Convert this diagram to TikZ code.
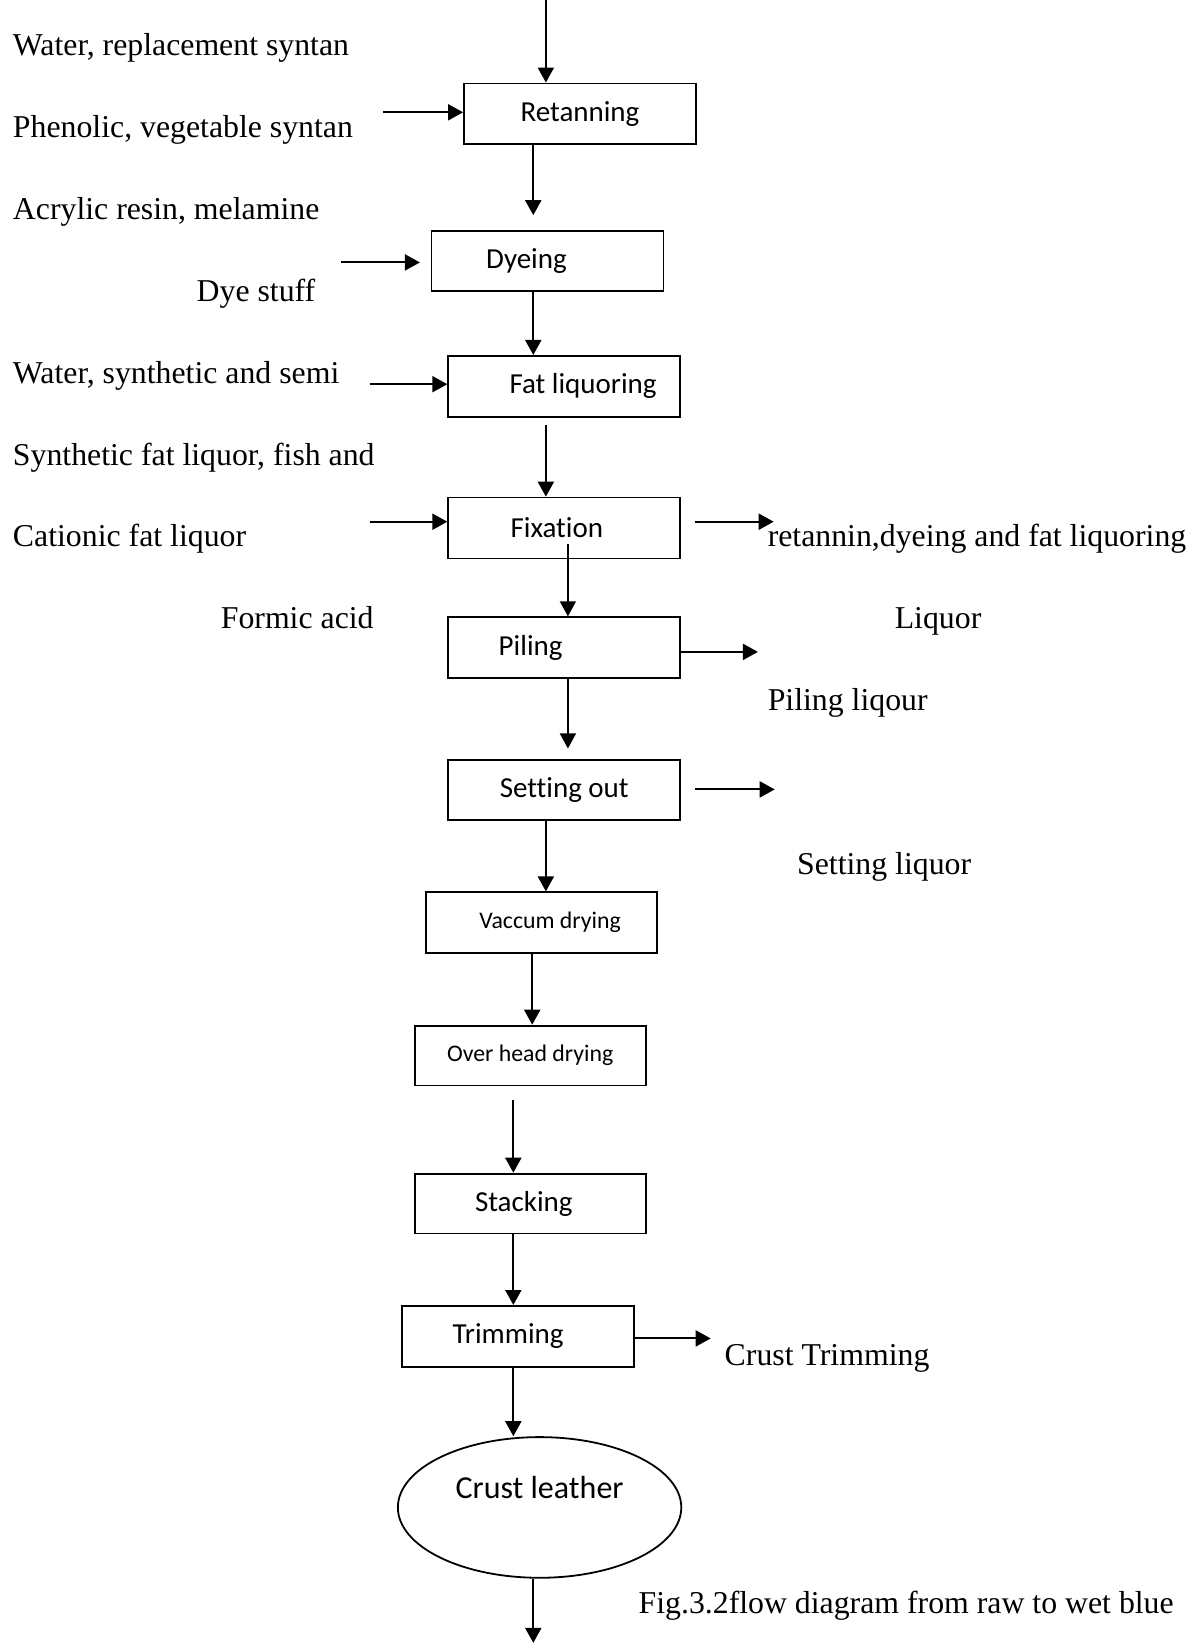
\documentclass[tikz,border=0pt]{standalone}
\usepackage{fontspec}
\setmainfont{Liberation Serif}
\newfontfamily\boxfont[Ligatures=NoCommon]{Carlito}
\usetikzlibrary{arrows.meta,shapes.geometric}
\newlength\px
\setlength\px{0.525pt}

\tikzset{
  stepbox/.style={draw, line width=0.9pt, minimum width=221\px, minimum height=58\px,
    inner sep=0pt, font=\boxfont\fontsize{14.5}{17}\selectfont},
  smallbox/.style={stepbox, font=\boxfont\fontsize{11.9}{14}\selectfont},
  flow/.style={-{Triangle[length=7.5pt,width=8pt]}, line width=1pt},
  thinflow/.style={flow, line width=0.7pt},
  feed/.style={anchor=west, inner sep=0pt, text height=10.5pt, text depth=0pt,
    font=\fontsize{15.9}{19}\selectfont}
}

\begin{document}
\begin{tikzpicture}[x=0.525pt, y=-0.525pt]
\useasboundingbox (0,0) rectangle (1140,1568);

\node[stepbox] (retan) at (552.5,108.5) {Retanning};
\node[stepbox, minimum height=57\px] (dye) at (521.5,248.5) {Dyeing\hspace*{40\px}};
\node[stepbox] (fat) at (537.5,368) {\hspace*{36\px}Fat liquoring};
\node[stepbox] (fix) at (537.5,503) {Fixation\hspace*{14\px}};
\node[stepbox] (pil) at (537.5,617) {Piling\hspace*{64\px}};
\node[stepbox, minimum height=57\px] (set) at (537.5,752.5) {Setting out};
\node[smallbox, minimum width=220\px] (vac) at (516,879) {\hspace*{16\px}Vaccum drying};
\node[smallbox, minimum width=220\px, minimum height=57\px] (ovh) at (505,1005.5) {Over head drying};
\node[stepbox, minimum width=220\px, minimum height=57\px] (stk) at (505,1146.5) {Stacking\hspace*{12\px}};
\node[stepbox] (trm) at (493.5,1273) {Trimming\hspace*{19\px}};
\node[draw, ellipse, line width=0.9pt, minimum width=270\px, minimum height=134\px,
  label={[font=\boxfont\fontsize{16}{19}\selectfont, yshift=19\px]center:Crust leather}] (crust) at (514,1436) {};

\node[feed] (l1) at (12,43) {Water, replacement syntan};
\node[feed] (l2) at (12,121) {Phenolic, vegetable syntan};
\node[feed] (l3) at (12,199) {Acrylic resin, melamine};
\node[feed] (l4) at (187,277) {Dye stuff};
\node[feed] (l5) at (12,355) {Water, synthetic and semi};
\node[feed] (l6) at (12,433) {Synthetic fat liquor, fish and};
\node[feed] (l7) at (12,511) {Cationic fat liquor};
\node[feed] (l8) at (210,589) {Formic acid};
\node[feed] (r1) at (731,511) {retannin,dyeing and fat liquoring};
\node[feed] (r2) at (852,589) {Liquor};
\node[feed] (r3) at (731,667) {Piling liqour};
\node[feed] (r4) at (759,823) {Setting liquor};
\node[feed] (r5) at (690,1291) {Crust Trimming};
\node[feed] (cap) at (608,1527) {Fig.3.2flow diagram from raw to wet blue};

\coordinate (top) at (520,0);
\coordinate (g1) at (508,205);
\coordinate (g2) at (520,405);
\coordinate (g3) at (541,518);
\coordinate (g4) at (541,713);
\coordinate (g5) at (489,1048);
\coordinate (bot) at (508,1565);

\coordinate (in1) at (365,107);
\coordinate (in2) at (325,250);
\coordinate (in2e) at (400,250);
\coordinate (in3) at (352,366);
\coordinate (in4) at (352,497);
\coordinate (out1) at (662,497);
\coordinate (out1e) at (737,497);
\coordinate (out2) at (722,621);
\coordinate (out3) at (662,752);
\coordinate (out3e) at (738,752);
\coordinate (out4) at (677,1275);

\draw[flow] (top) -- (retan.north -| top);
\draw[flow] (retan.south -| g1) -- (g1);
\draw[flow] (dye.south -| g1) -- (fat.north -| g1);
\draw[flow] (g2) -- (fix.north -| g2);
\draw[thinflow] (g3) -- (pil.north -| g3);
\draw[thinflow] (pil.south -| g4) -- (g4);
\draw[flow] (set.south -| top) -- (vac.north -| top);
\draw[flow] (vac.south -| 507,0) -- (ovh.north -| 507,0);
\draw[flow] (g5) -- (stk.north -| g5);
\draw[flow] (stk.south -| g5) -- (trm.north -| g5);
\draw[flow] (trm.south -| g5) -- (crust.north -| g5);
\draw[flow] (crust.south -| bot) -- (bot);

\draw[flow] (in1) -- (in1 -| retan.west);
\draw[flow] (in2) -- (in2e);
\draw[flow] (in3) -- (in3 -| fat.west);
\draw[flow] (in4) -- (in4 -| fix.west);
\draw[flow] (out1) -- (out1e);
\draw[flow] (pil.east |- out2) -- (out2);
\draw[flow] (out3) -- (out3e);
\draw[flow] (trm.east |- out4) -- (out4);
\end{tikzpicture}
\end{document}
